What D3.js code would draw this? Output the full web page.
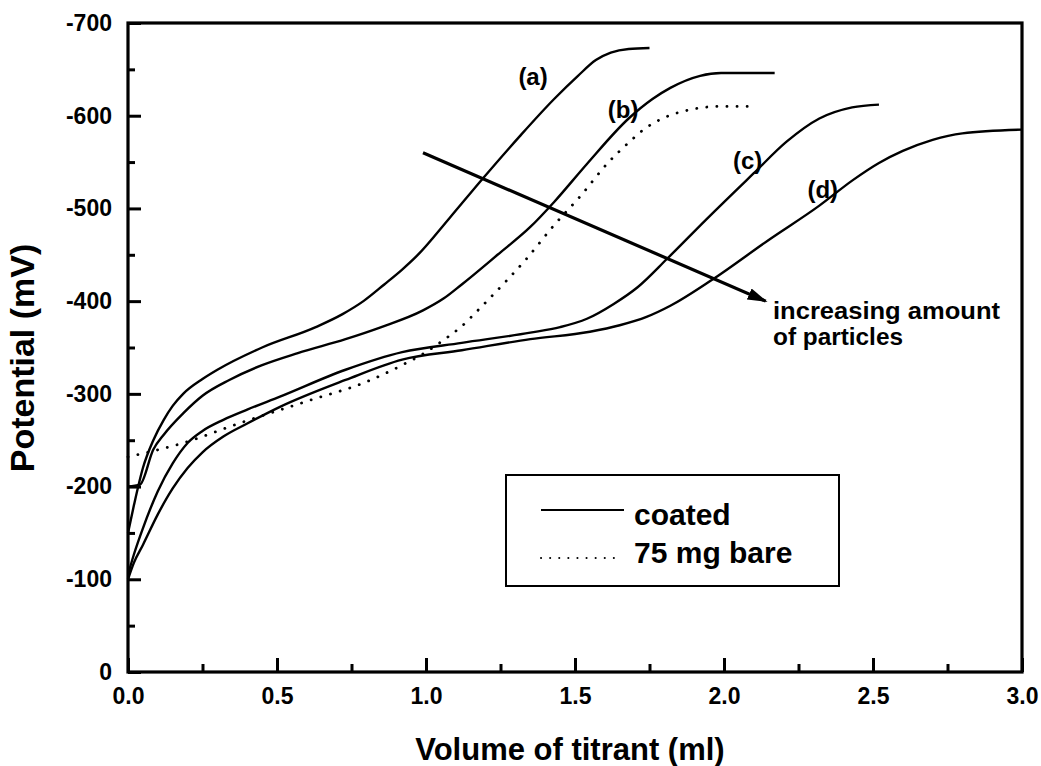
<!DOCTYPE html>
<html>
<head>
<meta charset="utf-8">
<script src="https://cdn.jsdelivr.net/npm/d3@7"></script>
<style>
  html, body { margin: 0; padding: 0; background: #fff; }
  svg { display: block; font-family: "Liberation Sans", Arial, Helvetica, sans-serif; }
</style>
</head>
<body>
<svg id="chart" width="1041" height="766"></svg>
<script>
// Titration curves: potential vs. volume of titrant
const curveA = [[0,-150],[0.02,-180],[0.05,-220],[0.085,-250],[0.12,-272],[0.15,-287],[0.185,-300],[0.25,-316],[0.30,-326],[0.45,-350],[0.63,-372],[0.72,-386],[0.79,-400],[0.86,-418],[0.92,-434],[0.97,-449],[1.08,-490],[1.19,-532],[1.315,-578],[1.43,-618],[1.51,-643],[1.57,-660],[1.62,-668],[1.68,-672],[1.75,-673]];
const curveB = [[0,-200],[0.04,-202],[0.085,-240],[0.12,-256],[0.185,-279],[0.25,-298],[0.34,-315],[0.45,-331],[0.57,-344],[0.73,-359],[0.85,-372],[0.99,-390],[1.06,-403],[1.12,-418],[1.24,-450],[1.35,-480],[1.43,-507],[1.54,-548],[1.68,-597],[1.76,-618],[1.82,-630],[1.92,-643],[1.99,-646],[2.17,-646]];
const curveC = [[0,-105],[0.02,-127],[0.05,-155],[0.10,-195],[0.15,-225],[0.20,-247],[0.25,-260],[0.32,-272],[0.40,-283],[0.51,-297],[0.73,-326],[0.92,-345],[1.12,-355],[1.35,-366],[1.45,-372],[1.54,-381],[1.63,-397],[1.71,-415],[1.81,-446],[1.94,-488],[2.10,-538],[2.21,-572],[2.32,-597],[2.43,-609],[2.52,-612]];
const curveD = [[0,-100],[0.02,-118],[0.05,-137],[0.10,-170],[0.15,-198],[0.20,-220],[0.25,-237],[0.32,-254],[0.40,-268],[0.51,-286],[0.73,-315],[0.92,-337],[1.12,-347],[1.35,-359],[1.55,-367],[1.65,-374],[1.74,-383],[1.82,-395],[1.96,-423],[2.15,-466],[2.32,-503],[2.43,-530],[2.52,-549],[2.60,-562],[2.70,-574],[2.80,-581],[3.0,-585]];
const bare75 = [[0,-232],[0.185,-247],[0.38,-269],[0.61,-293],[0.80,-313],[0.92,-331],[1.00,-345],[1.05,-356],[1.12,-373],[1.18,-392],[1.27,-422],[1.33,-443],[1.43,-482],[1.52,-514],[1.61,-549],[1.68,-571],[1.73,-585],[1.80,-598],[1.88,-606],[1.98,-610],[2.1,-610]];

const coatedCurves = [curveA, curveB, curveC, curveD];
const curveLabels = ["(a)", "(b)", "(c)", "(d)"];
const curveLabelPos = [[1.31,-633],[1.61,-598],[2.03,-543],[2.28,-511]];

const xTicks = [0, 0.5, 1.0, 1.5, 2.0, 2.5, 3.0];
const xMinorTicks = [0.25, 0.75, 1.25, 1.75, 2.25, 2.75];
const yTicks = [0, -100, -200, -300, -400, -500, -600, -700];
const yMinorTicks = [-50, -150, -250, -350, -450, -550, -650];

const arrowFrom = [0.99, -560];
const arrowTo = [2.14, -400];
const legendItems = ["coated", "75 mg bare"];

const svg = d3.select("#chart");
const plotLeft = 128, plotRight = 1022, plotTop = 23, plotBottom = 672;

const x = d3.scaleLinear().domain([0, 3]).range([plotLeft, plotRight]);
const y = d3.scaleLinear().domain([0, -700]).range([plotBottom, plotTop]);

const line = d3.line().x(d => x(d[0])).y(d => y(d[1])).curve(d3.curveMonotoneX);

// data curves
svg.append("g").selectAll("path").data(coatedCurves).join("path")
  .attr("d", line).attr("fill", "none").attr("stroke", "#000")
  .attr("stroke-width", 2.4).attr("stroke-linejoin", "round");

svg.append("path").datum(bare75).attr("d", line)
  .attr("fill", "none").attr("stroke", "#000").attr("stroke-width", 2.8)
  .attr("stroke-linecap", "round").attr("stroke-dasharray", "0.1 10");

// axes with inward ticks
const fmt = d => d === 0 ? "0" : String(d);
const xAxis = svg.append("g").attr("transform", `translate(0,${plotBottom})`)
  .call(d3.axisBottom(x).tickValues(xTicks).tickSize(-14).tickPadding(16).tickFormat(d3.format(".1f")));
const xMinor = svg.append("g").attr("transform", `translate(0,${plotBottom})`)
  .call(d3.axisBottom(x).tickValues(xMinorTicks).tickSize(-8).tickFormat(""));
const yAxis = svg.append("g").attr("transform", `translate(${plotLeft},0)`)
  .call(d3.axisLeft(y).tickValues(yTicks).tickSize(-13).tickPadding(16).tickFormat(fmt));
const yMinor = svg.append("g").attr("transform", `translate(${plotLeft},0)`)
  .call(d3.axisLeft(y).tickValues(yMinorTicks).tickSize(-7).tickFormat(""));

[xAxis, xMinor, yAxis, yMinor].forEach(g => {
  g.select(".domain").remove();
  g.selectAll(".tick line").attr("stroke", "#000").attr("stroke-width", 3);
  g.selectAll(".tick text").attr("fill", "#000").attr("font-size", 23)
    .attr("font-weight", "bold").attr("font-family", "Liberation Sans, Arial, sans-serif");
});

// frame
svg.append("rect").attr("x", plotLeft).attr("y", plotTop)
  .attr("width", plotRight - plotLeft).attr("height", plotBottom - plotTop)
  .attr("fill", "none").attr("stroke", "#000").attr("stroke-width", 3.2);

// axis titles
svg.append("text").attr("x", (plotLeft + plotRight) / 2 - 5).attr("y", 760)
  .attr("text-anchor", "middle").attr("font-size", 31).attr("font-weight", "bold")
  .text("Volume of titrant (ml)");
svg.append("text").attr("transform", `translate(34,358) rotate(-90)`)
  .attr("text-anchor", "middle").attr("font-size", 34).attr("font-weight", "bold")
  .text("Potential (mV)");

// curve labels
svg.append("g").selectAll("text").data(curveLabels).join("text")
  .attr("x", (d, i) => x(curveLabelPos[i][0]))
  .attr("y", (d, i) => y(curveLabelPos[i][1]))
  .attr("font-size", 24).attr("font-weight", "bold").text(d => d);

// annotation arrow
svg.append("defs").append("marker")
  .attr("id", "head").attr("markerUnits", "userSpaceOnUse")
  .attr("viewBox", "0 0 20 12").attr("refX", 18).attr("refY", 6)
  .attr("markerWidth", 20).attr("markerHeight", 12).attr("orient", "auto")
  .append("path").attr("d", "M0,0 L20,6 L0,12 Z").attr("fill", "#000");

svg.append("line")
  .attr("x1", x(arrowFrom[0])).attr("y1", y(arrowFrom[1]))
  .attr("x2", x(arrowTo[0])).attr("y2", y(arrowTo[1]))
  .attr("stroke", "#000").attr("stroke-width", 3.2).attr("marker-end", "url(#head)");

svg.append("text").attr("x", 773).attr("y", 319).attr("font-size", 23)
  .attr("font-weight", "bold").attr("textLength", 227).attr("lengthAdjust", "spacingAndGlyphs")
  .text("increasing amount");
svg.append("text").attr("x", 773).attr("y", 345).attr("font-size", 23)
  .attr("font-weight", "bold").attr("textLength", 130).attr("lengthAdjust", "spacingAndGlyphs")
  .text("of particles");

// legend
const lg = svg.append("g");
lg.append("rect").attr("x", 506).attr("y", 475).attr("width", 333).attr("height", 111)
  .attr("fill", "#fff").attr("stroke", "#000").attr("stroke-width", 2);
lg.append("line").attr("x1", 541).attr("x2", 624).attr("y1", 510).attr("y2", 510)
  .attr("stroke", "#000").attr("stroke-width", 2.2);
lg.append("line").attr("x1", 541).attr("x2", 622).attr("y1", 558).attr("y2", 558)
  .attr("stroke", "#000").attr("stroke-width", 2).attr("stroke-linecap", "round")
  .attr("stroke-dasharray", "0.1 9");
lg.selectAll("text").data(legendItems).join("text")
  .attr("x", 634).attr("y", (d, i) => 525 + i * 38)
  .attr("font-size", 30).attr("font-weight", "bold").text(d => d);
</script>
</body>
</html>
